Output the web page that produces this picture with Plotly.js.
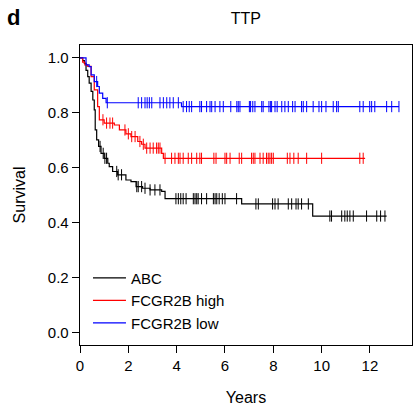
<!DOCTYPE html>
<html>
<head>
<meta charset="utf-8">
<script src="https://cdn.plot.ly/plotly-3.0.1.min.js"></script>
<style>html,body{margin:0;padding:0;background:#fff;}#chart{width:413px;height:407px;}</style>
</head>
<body>
<div id="chart"></div>
<script>
// Kaplan-Meier step data (years, survival)
var abcTimes = [0,0.11,0.18,0.25,0.32,0.38,0.46,0.53,0.59,0.63,0.69,0.77,0.87,1.0,1.15,1.21,1.35,1.56,1.9,2.11,2.32,2.59,2.9,3.38,3.52,6.69,9.63,12.69];
var abcSurv  = [1,0.99,0.98,0.955,0.932,0.908,0.878,0.847,0.811,0.738,0.702,0.678,0.653,0.635,0.617,0.605,0.587,0.575,0.556,0.55,0.532,0.526,0.52,0.515,0.488,0.469,0.425,0.425];
var abcCens  = [0.83,0.96,1.03,1.1,1.52,1.58,1.72,2.35,2.41,2.55,2.69,2.9,3.1,3.31,3.97,4.07,4.17,4.27,4.39,4.69,4.76,4.83,4.89,5.03,5.24,5.52,5.59,5.66,5.76,5.89,6.0,6.48,7.28,7.38,7.97,8.07,8.2,8.62,8.76,8.94,9.03,9.17,9.45,10.34,10.41,10.83,10.96,11.06,11.17,11.31,11.86,12.28,12.44,12.62];

var highTimes = [0,0.11,0.2,0.32,0.46,0.59,0.73,0.8,1.0,1.42,1.63,1.9,2.11,2.39,2.55,2.69,3.38,3.45,11.8];
var highSurv  = [1,0.985,0.975,0.969,0.932,0.884,0.823,0.775,0.763,0.756,0.738,0.724,0.714,0.696,0.686,0.672,0.653,0.635,0.635];
var highCens  = [0.95,1.1,1.24,1.35,1.86,2.0,2.14,2.28,2.48,2.62,2.76,2.9,3.03,3.17,3.24,3.31,3.52,3.79,3.93,4.07,4.14,4.27,4.48,4.62,4.83,4.96,5.03,5.54,5.63,6.0,6.07,6.21,6.59,6.69,7.1,7.17,7.24,7.45,7.58,7.72,7.79,7.86,7.93,8.0,8.58,8.69,8.85,9.03,9.38,10.0,11.58,11.72];

var lowTimes = [0,0.25,0.38,0.46,0.59,0.73,0.8,0.94,1.08,4.2,13.2];
var lowSurv  = [1,0.975,0.968,0.938,0.914,0.896,0.872,0.853,0.837,0.823,0.823];
var lowCens  = [0.69,1.13,2.41,2.55,2.69,2.78,2.87,2.97,3.31,3.45,3.59,3.72,3.86,4.07,4.27,4.41,4.52,4.62,4.96,5.03,5.24,5.38,5.45,5.59,5.79,5.93,6.24,6.49,6.55,6.62,7.01,7.06,7.15,7.24,7.52,7.58,7.82,7.89,7.93,8.07,8.16,8.35,8.48,8.62,8.80,8.90,9.17,9.24,9.38,9.65,9.89,10.0,10.18,10.48,10.62,10.69,11.58,11.72,11.99,12.07,12.2,12.69,12.9,13.2];

var seriesNames = ["ABC","FCGR2B high","FCGR2B low"];
var seriesColors = ["#000000","#ff0000","#0000ff"];
var xTicks = [0,2,4,6,8,10,12];
var yTicks = [0,0.2,0.4,0.6,0.8,1.0];

function stepAt(times, surv, t){
  var v = surv[0];
  for (var i=0;i<times.length;i++){ if (times[i] <= t) v = surv[i]; }
  return v;
}

var groups = [[abcTimes,abcSurv,abcCens],[highTimes,highSurv,highCens],[lowTimes,lowSurv,lowCens]];
var traces = [];
groups.forEach(function(g,i){
  traces.push({x:g[0], y:g[1], type:'scatter', mode:'lines', line:{shape:'hv', color:seriesColors[i], width:1.2}, name:seriesNames[i], showlegend:true});
});
groups.forEach(function(g,i){
  traces.push({x:g[2], y:g[2].map(function(t){return stepAt(g[0],g[1],t);}), type:'scatter', mode:'markers',
    marker:{symbol:'line-ns-open', size:8, color:seriesColors[i], line:{color:seriesColors[i], width:1}}, showlegend:false, hoverinfo:'skip'});
});

var font = "Liberation Sans, Arial, Helvetica, sans-serif";
var layout = {
  width:413, height:407,
  margin:{l:80, r:1, t:45, b:62},
  paper_bgcolor:'#fff', plot_bgcolor:'#fff',
  font:{family:font, size:15, color:'#000'},
  title:{text:'TTP', x:0.595, xanchor:'center', y:0.955, yanchor:'middle', font:{size:16, family:font}},
  xaxis:{range:[0,13.74], tickvals:xTicks, ticktext:xTicks.map(String), ticks:'outside', ticklen:7, tickwidth:1, tickcolor:'#000',
    showline:true, mirror:true, linecolor:'#000', linewidth:1.3, showgrid:false, zeroline:false,
    title:{text:'Years', font:{size:16, family:font}, standoff:18}, tickfont:{size:15}},
  yaxis:{range:[-0.044,1.047], tickvals:yTicks, ticktext:yTicks.map(function(v){return v.toFixed(1);}), ticks:'outside', ticklen:7, tickwidth:1, tickcolor:'#000',
    showline:true, mirror:true, linecolor:'#000', linewidth:1.3, showgrid:false, zeroline:false,
    title:{text:'Survival', font:{size:16, family:font}, standoff:18}, tickfont:{size:15}},
  legend:{x:0.024, y:0.278, xanchor:'left', yanchor:'top', bgcolor:'rgba(0,0,0,0)', font:{size:15, family:font}, itemwidth:33, tracegroupgap:0},
  annotations:[{text:'<b>d</b>', xref:'paper', yref:'paper', x:-0.199, y:1.09, xanchor:'center', yanchor:'middle', showarrow:false, font:{size:22, family:font}}],
  showlegend:true
};
Plotly.newPlot('chart', traces, layout, {displayModeBar:false, staticPlot:true});
</script>
</body>
</html>
